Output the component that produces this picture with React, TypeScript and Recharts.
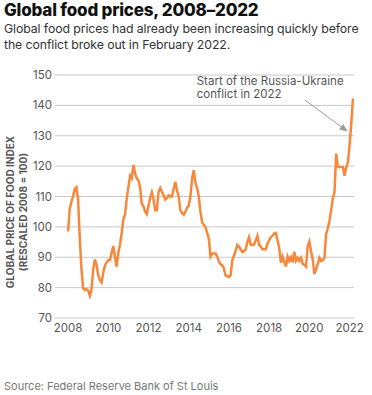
import React from 'react';
import { LineChart, Line, XAxis, YAxis, CartesianGrid, ReferenceLine } from 'recharts';

// monthly values, Jan..Dec
const years = [2008, 2009, 2010, 2011, 2012, 2013, 2014, 2015, 2016, 2017, 2018, 2019, 2020, 2021, 2022];
const v2008 = [98.5, 106, 108.3, 110, 112.5, 113, 109, 96, 86, 79.8, 79.2, 79.5];
const v2009 = [79, 77.3, 79.5, 86, 89.3, 87.5, 84, 82.5, 81.7, 85, 87.3, 88.3];
const v2010 = [89, 89, 91.5, 93.7, 90, 86.9, 91.5, 94.2, 98, 102.5, 104, 109.4];
const v2011 = [113, 116.8, 116, 120.4, 117.5, 116, 115.3, 113, 107.5, 106.8, 105, 104.2];
const v2012 = [107, 109.5, 111.4, 109, 105.5, 105.5, 111.5, 112.8, 111.5, 110.4, 109, 109.5];
const v2013 = [110.4, 110, 110, 112.5, 114.8, 112, 110, 105.5, 104.5, 104, 105, 106.3];
const v2014 = [107, 110, 115.8, 118.7, 114.5, 112.8, 110, 105, 101.5, 100.6, 100, 98];
const v2015 = [96.1, 90.2, 91.2, 91.2, 91.2, 90.2, 88.5, 87.7, 87.3, 86.3, 84, 83.8];
const v2016 = [83.5, 84, 89, 90.5, 92.2, 94, 93.5, 92.6, 91.7, 92, 92.6, 95];
const v2017 = [96.6, 94.1, 94.1, 94.1, 95.6, 97.1, 94, 93.6, 92.6, 92.6, 92.6, 94.5];
const v2018 = [95.6, 96.6, 97, 97.8, 98, 95.5, 93.1, 88.2, 90.2, 88.5, 86.9, 90.3];
const v2019 = [88.8, 90, 88.3, 91.8, 88.8, 89.8, 88.8, 89.8, 87.8, 87.5, 86.9, 93.7];
const v2020 = [95.2, 92, 89.3, 84.5, 86, 87.8, 89.8, 88.8, 89, 89.8, 97.6, 99.6];
const v2021 = [102, 105.5, 109.4, 111.4, 124.1, 119.7, 119.7, 119.7, 119.7, 116.8, 119.7, 121.2];
const v2022 = [127.1, 133.9, 142.3];

const yTicks = [70, 80, 90, 100, 110, 120, 130, 140, 150];
const xTicks = [2008, 2010, 2012, 2014, 2016, 2018, 2020, 2022];

const series = [v2008, v2009, v2010, v2011, v2012, v2013, v2014, v2015, v2016, v2017, v2018, v2019, v2020, v2021, v2022];
const data = series.flatMap((vals, i) => vals.map((v, m) => ({ t: years[i] + m / 12, value: v })));

const FONT = 'Inter, "Noto Sans", sans-serif';

const Arrow = (props: any) => {
  const { x1, y1, x2, y2 } = props;
  const dx = x2 - x1;
  const dy = y2 - y1;
  const len = Math.sqrt(dx * dx + dy * dy);
  const ux = dx / len;
  const uy = dy / len;
  const hl = 8;
  const hw = 3.5;
  const bx = x2 - ux * hl;
  const by = y2 - uy * hl;
  return (
    <g>
      <line x1={x1} y1={y1} x2={bx} y2={by} stroke="#9a9a9a" strokeWidth={1} />
      <polygon
        points={`${x2},${y2} ${bx - uy * hw},${by + ux * hw} ${bx + uy * hw},${by - ux * hw}`}
        fill="#9a9a9a"
      />
      <text x={x1 - 108} y={y1 - 15} fontSize={11.5} fill="#555" fontFamily={FONT}>
        Start of the Russia-Ukraine
      </text>
      <text x={x1 - 108} y={y1 - 2} fontSize={11.5} fill="#555" fontFamily={FONT}>
        conflict in 2022
      </text>
    </g>
  );
};

export default function App() {
  return (
    <div style={{ position: 'absolute', left: 0, top: 0, width: 372, height: 395, background: '#fff', fontFamily: FONT }}>
      <div style={{ position: 'absolute', left: 4, top: 0, fontSize: 17, fontWeight: 800, color: '#111', letterSpacing: -0.2 }}>
        Global food prices, 2008–2022
      </div>
      <div style={{ position: 'absolute', left: 4, top: 21, whiteSpace: 'nowrap', fontSize: 12.3, lineHeight: '16px', color: '#333', letterSpacing: -0.1 }}>
        Global food prices had already been increasing quickly before
        <br />
        the conflict broke out in February 2022.
      </div>
      <LineChart width={372} height={395} data={data} margin={{ top: 75, right: 18, bottom: 47, left: 5 }}>
        <CartesianGrid vertical={false} stroke="#c8c8c8" />
        <XAxis
          dataKey="t"
          type="number"
          domain={[2007.35, 2022.22]}
          ticks={xTicks}
          allowDataOverflow
          axisLine={false}
          tickLine={false}
          tickSize={0}
          tickMargin={6}
          tick={{ fontSize: 11.5, fill: '#555', fontFamily: FONT }}
        />
        <YAxis
          type="number"
          domain={[70, 150]}
          ticks={yTicks}
          width={50}
          axisLine={false}
          tickLine={false}
          tickSize={0}
          tickMargin={3}
          tick={{ fontSize: 11.5, fill: '#555', fontFamily: FONT }}
        />
        <ReferenceLine
          segment={[{ x: 2019.77, y: 141.8 }, { x: 2021.9, y: 131.4 }]}
          shape={Arrow}
        />
        <Line
          type="linear"
          dataKey="value"
          stroke="#f7873b"
          strokeWidth={2.5}
          dot={false}
          isAnimationActive={false}
        />
      </LineChart>
      <svg style={{ position: 'absolute', left: 0, top: 0 }} width={40} height={395}>
        <g transform="translate(14,212) rotate(-90)">
          <text textAnchor="middle" fontSize={10} fontWeight={700} fill="#555" fontFamily={FONT}>
            GLOBAL PRICE OF FOOD INDEX
          </text>
          <text y={12.5} textAnchor="middle" fontSize={10} fontWeight={700} fill="#555" fontFamily={FONT}>
            (RESCALED 2008 = 100)
          </text>
        </g>
      </svg>
      <div style={{ position: 'absolute', left: 4, top: 379, fontSize: 11, color: '#777' }}>
        Source: Federal Reserve Bank of St Louis
      </div>
    </div>
  );
}
